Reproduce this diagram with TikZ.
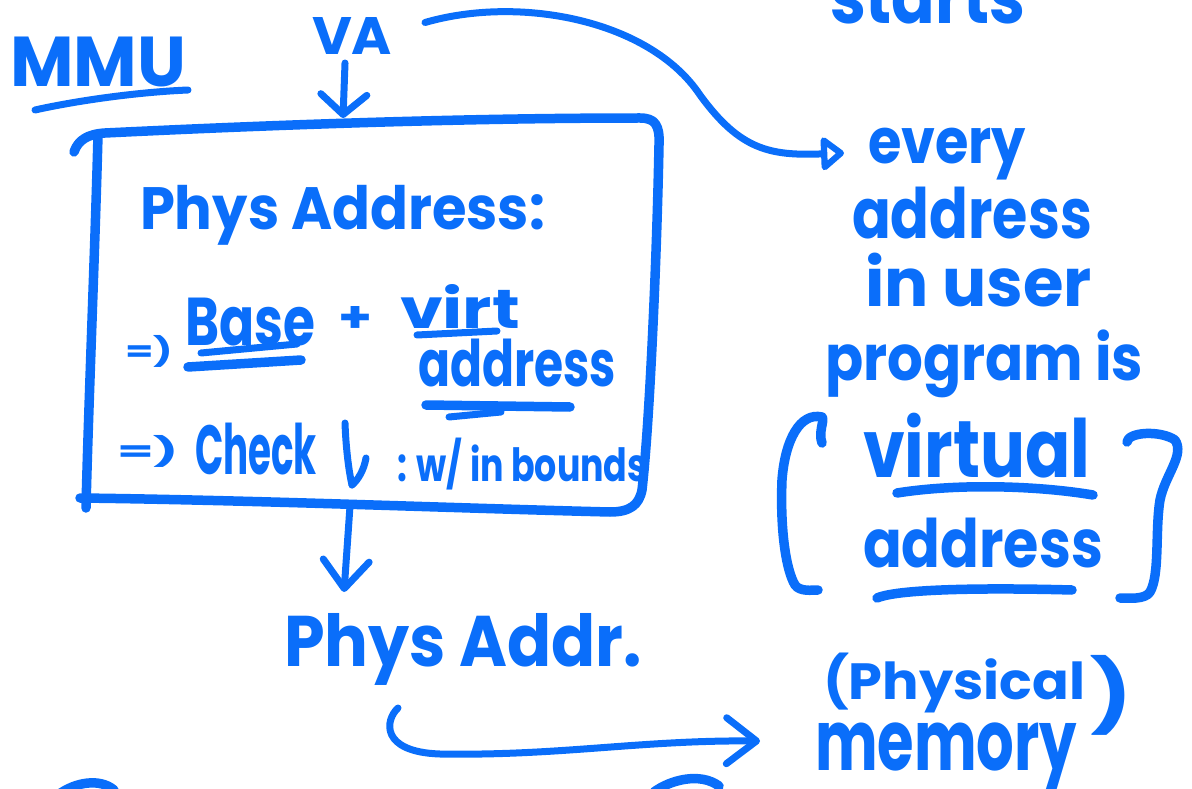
\documentclass[tikz,border=0pt]{standalone}
\usepackage{fontspec}
\setmainfont{Poppins}
\usetikzlibrary{arrows.meta}
\definecolor{ink}{RGB}{10,110,250}
% set a word so that it fills a given width and total height (in pt)
\newcommand\hw[3]{\resizebox*{#1pt}{#2pt}{\bfseries #3}}
\begin{document}
\begin{tikzpicture}[x=1pt,y=-1pt,line cap=round,line join=round,
  hand/.style={inner sep=0pt,outer sep=0pt,anchor=north west,text=ink},
  pen/.style={draw=ink,line width=7pt},
  heavypen/.style={draw=ink,line width=9.5pt},
  barb/.style={-{Straight Barb[length=#1,width=46pt,round]}},
  opentip/.style={-{Triangle[open,length=25pt,width=38pt,round,fill=white]}}]
\useasboundingbox (0,0) rectangle (1192,789);
\clip (0,0) rectangle (1192,789);

% ---- left column: the MMU ----
\node[hand] (mmu) at (10,37) {\hw{176}{50}{MMU}};
\draw[pen] (35,110) .. controls (80,100) and (140,92) .. (188,90);

\node[hand] (va) at (312,17) {\hw{80}{37}{VA}};

% hand-drawn box
\draw[heavypen] (74,152) .. controls (78,140) and (88,134) .. (105,133)
  .. controls (250,126) and (450,118) .. (640,118)
  .. controls (655,118) and (660,125) .. (659,145)
  .. controls (657,250) and (650,420) .. (642,490)
  .. controls (639,505) and (630,512) .. (610,512)
  .. controls (450,508) and (250,500) .. (80,498);
\draw[heavypen] (98,135) .. controls (95,250) and (88,420) .. (86,508);
\coordinate (boxtop) at (343,118);
\coordinate (boxbottom) at (350,506);

\node[hand] (physaddress) at (140,185) {\hw{405}{60}{Phys Address:}};

\node[hand] (imp1) at (125,335) {\hw{48}{32}{=)}};
\node[hand] (base) at (185,298) {\hw{130}{48}{Base}};
\draw[pen] (201,353) -- (297,344);
\draw[heavypen] (188,367) -- (301,360);
\node[hand] (plus) at (338,306) {\hw{34}{26}{+}};
\node[hand] (virt) at (400,284) {\hw{120}{44}{virt}};
\draw[pen] (417,335) -- (497,331);
\node[hand] (vaddr) at (418,339) {\hw{198}{48}{address}};
\draw[heavypen] (426,405) -- (570,407);
\draw[pen] (449,417) -- (501,412);

\node[hand] (imp2) at (117,435) {\hw{62}{32}{=)}};
\node[hand] (check) at (195,423) {\hw{122}{52}{Check}};
\draw[pen] (345,423) .. controls (346,450) and (349,472) .. (352,485);
\draw[pen] (366,458) .. controls (364,470) and (358,480) .. (352,485);
\node[hand] (bounds) at (397,438) {\hw{250}{52}{: w/ in bounds}};

\node[hand] (physaddr) at (284,613) {\hw{358}{72}{Phys Addr.}};
\coordinate (pastart) at (398,708);

% ---- right column ----
\node[hand] (starts) at (830,-28) {\hw{195}{52}{starts}};
\node[hand] (every) at (868,128) {\hw{158}{52}{every}};
\coordinate (everyin) at (844,153);
\node[hand] (addr1) at (852,187) {\hw{240}{52}{address}};
\node[hand] (inuser) at (865,253) {\hw{227}{54}{in user}};
\node[hand] (program) at (825,330) {\hw{318}{68}{program is}};
\node[hand] (virtual) at (863,413) {\hw{227}{65}{virtual}};
\draw[heavypen] (897,493) .. controls (960,483) and (1040,486) .. (1093,495);
\node[hand] (addr2) at (863,518) {\hw{240}{50}{address}};
\draw[heavypen] (877,598) .. controls (900,588) and (1000,588) .. (1072,590);

% brackets round "virtual address"
\draw[heavypen] (822,443) .. controls (818,432) and (825,420) .. (822,417)
  .. controls (800,412) and (785,440) .. (782,480)
  .. controls (780,530) and (786,570) .. (795,585)
  .. controls (800,592) and (812,590) .. (818,590);
\draw[heavypen] (1127,442) .. controls (1128,432) and (1160,430) .. (1175,440)
  .. controls (1185,455) and (1165,475) .. (1160,500)
  .. controls (1155,530) and (1160,575) .. (1150,592)
  .. controls (1145,600) and (1128,598) .. (1120,598);

\node[hand] (physical) at (823,653) {\hw{262}{60}{(Physical}};
\node[hand] (rparen) at (1090,655) {\hw{42}{80}{)}};
\node[hand] (memory) at (815,723) {\hw{262}{70}{memory}};
\coordinate (memin) at (760,741);

% ---- connectors ----
\draw[pen,barb=20pt] ([shift={(-7,9)}]va.south) -- (boxtop);
\draw[pen,barb=28pt] (boxbottom) -- ([shift={(60,-21)}]physaddr.north west);
\draw[pen,barb=30pt] (pastart) .. controls (385,720) and (380,752) .. (440,754)
  .. controls (560,756) and (640,740) .. (memin);
\draw[pen,opentip] ([shift={(33,-13)}]va.east) .. controls (520,-5) and (650,20) .. (700,95)
  .. controls (740,150) and (770,156) .. (everyin);

% strokes running off the lower edge
\draw[heavypen] (58,795) .. controls (75,782) and (100,778) .. (114,790);
\draw[heavypen] (654,792) .. controls (670,780) and (700,772) .. (719,786);
\end{tikzpicture}
\end{document}
